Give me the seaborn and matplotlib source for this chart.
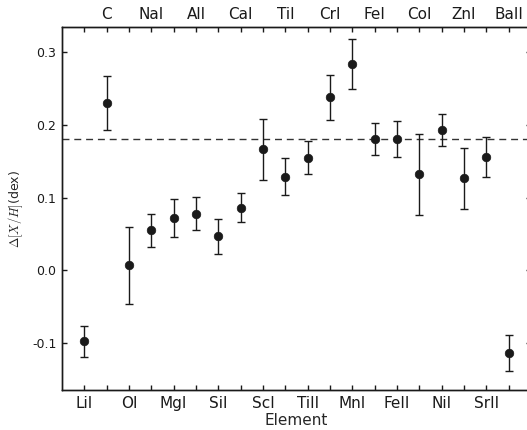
import matplotlib
matplotlib.use("Agg")
import matplotlib.pyplot as plt
import seaborn as sns
import pandas as pd

# Abundance differences per element/ion
elements = ["LiI", "C", "OI", "NaI", "MgI", "AlI", "SiI", "CaI", "ScI", "TiI",
            "TiII", "CrI", "MnI", "FeI", "FeII", "CoI", "NiI", "ZnI", "SrII", "BaII"]
delta = [-0.098, 0.230, 0.007, 0.055, 0.072, 0.078, 0.047, 0.086, 0.167, 0.129,
         0.155, 0.238, 0.284, 0.181, 0.181, 0.132, 0.193, 0.127, 0.156, -0.114]
err = [0.021, 0.037, 0.053, 0.023, 0.026, 0.023, 0.024, 0.020, 0.042, 0.026,
       0.023, 0.031, 0.034, 0.022, 0.025, 0.056, 0.022, 0.042, 0.027, 0.025]
reference_level = 0.181
yticks = [-0.1, 0.0, 0.1, 0.2, 0.3]

df = pd.DataFrame({"element": elements, "delta": delta, "err": err})
df["pos"] = range(len(df))

sns.set_style("ticks")
plt.rcParams["font.family"] = ["DejaVu Sans"]
plt.rcParams["mathtext.fontset"] = "cm"

fig = plt.figure(figsize=(5.27, 4.30), dpi=100)
ax = fig.add_axes([0.1176, 0.093, 0.890, 0.844])

ax.errorbar(df["pos"], df["delta"], yerr=df["err"], fmt="none",
            ecolor="#1a1a1a", elinewidth=1.0, capsize=3.0, capthick=1.0, zorder=2)
sns.scatterplot(data=df, x="pos", y="delta", ax=ax, color="#1a1a1a",
                s=38, edgecolor="#1a1a1a", linewidth=0.5, zorder=3, legend=False)
ax.axhline(reference_level, color="#333333", lw=1.0, ls=(0, (5, 3.5)), zorder=1)

ax.set_xlim(-1, 20)
ax.set_ylim(-0.165, 0.335)
ax.set_yticks(yticks)
ax.set_yticklabels([f"{v:.1f}" for v in yticks])

ax.set_xticks(df["pos"])
ax.set_xticklabels([e if i % 2 == 0 else "" for i, e in enumerate(elements)])
ax.set_xlabel("Element", fontsize=11, labelpad=2)
ax.set_ylabel(r"$\Delta[X/H]$(dex)", fontsize=9, labelpad=5)

ax.tick_params(axis="x", direction="in", length=3.5, width=1, labelsize=11,
               colors="#1a1a1a", pad=4)
ax.tick_params(axis="y", direction="in", length=3.5, width=1, labelsize=9,
               right=True, colors="#1a1a1a", pad=4)

top = ax.twiny()
top.set_xlim(ax.get_xlim())
top.set_xticks(df["pos"])
top.set_xticklabels([e if i % 2 == 1 else "" for i, e in enumerate(elements)])
top.tick_params(axis="x", direction="in", length=3.5, width=1, labelsize=11,
                colors="#1a1a1a", pad=4)

for a in (ax, top):
    for sp in a.spines.values():
        sp.set_visible(True)
        sp.set_linewidth(1.0)
        sp.set_color("#1a1a1a")

fig.savefig("out.png", dpi=100)
